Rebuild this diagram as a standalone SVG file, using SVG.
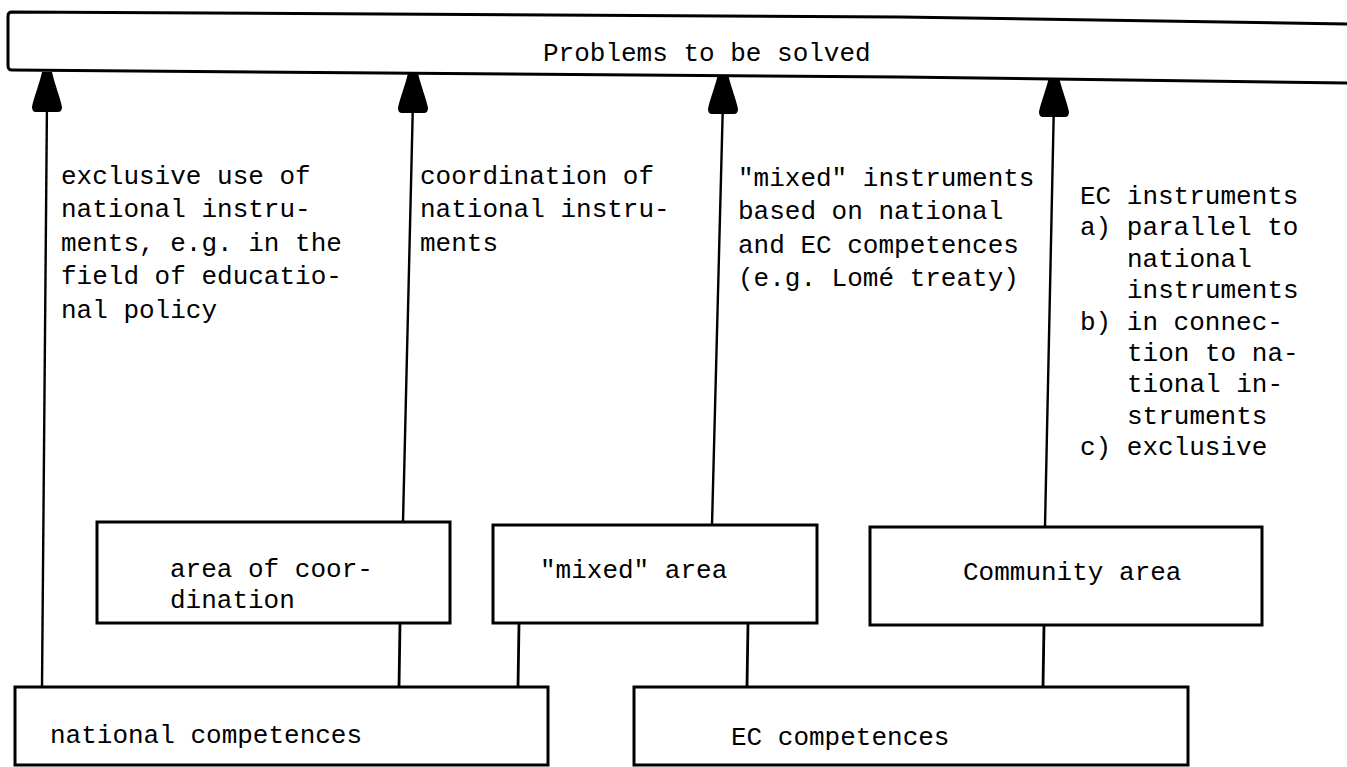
<svg xmlns="http://www.w3.org/2000/svg" xmlns:xlink="http://www.w3.org/1999/xlink" width="1347" height="767" viewBox="0 0 1347 767">
<style>
  .t { font-family: "Liberation Mono", "DejaVu Sans Mono", monospace; font-size: 26px; fill: #000; }
  .box { fill: #fff; stroke: #000; stroke-width: 3; }
  .ln { stroke: #000; stroke-width: 2.4; fill: none; }
  .cn { stroke: #000; stroke-width: 2.8; fill: none; }
</style>
<defs>
  <path id="head" d="M -5,0 L 5,0 C 7,10 14,28 15,35 Q 15,40 11,40 L -11,40 Q -15,40 -15,35 C -14,28 -7,10 -5,0 Z" fill="#000"/>
</defs>
<rect width="1347" height="767" fill="#fff"/>

<g id="connectors">
  <line class="ln" x1="42" y1="687" x2="47" y2="100"/>
  <line class="ln" x1="403" y1="522" x2="413" y2="100"/>
  <line class="ln" x1="712" y1="525" x2="723" y2="100"/>
  <line class="ln" x1="1045" y1="527" x2="1054" y2="100"/>
  <use xlink:href="#head" href="#head" transform="translate(47,72)"/>
  <use xlink:href="#head" href="#head" transform="translate(413,73)"/>
  <use xlink:href="#head" href="#head" transform="translate(723,74)"/>
  <use xlink:href="#head" href="#head" transform="translate(1054,77)"/>
  <line class="cn" x1="400" y1="623" x2="399" y2="687"/>
  <line class="cn" x1="519" y1="623" x2="518" y2="687"/>
  <line class="cn" x1="748" y1="623" x2="747" y2="687"/>
  <line class="cn" x1="1044" y1="625" x2="1043" y2="687"/>
</g>

<g id="problems">
  <path class="box" d="M 12,12 L 900,17 L 1350,24 L 1350,83 L 900,77 L 12,70 Q 8,70 8,66 L 8,16 Q 8,12 12,12 Z"/>
  <text class="t" x="543" y="61">Problems to be solved</text>
</g>

<g id="label-exclusive">
  <text class="t" x="61" y="184">exclusive use of</text>
  <text class="t" x="61" y="217">national instru-</text>
  <text class="t" x="61" y="251">ments, e.g. in the</text>
  <text class="t" x="61" y="284">field of educatio-</text>
  <text class="t" x="61" y="318">nal policy</text>
</g>

<g id="label-coordination">
  <text class="t" x="420" y="184">coordination of</text>
  <text class="t" x="420" y="217">national instru-</text>
  <text class="t" x="420" y="251">ments</text>
</g>

<g id="label-mixed">
  <text class="t" x="738" y="186">"mixed" instruments</text>
  <text class="t" x="738" y="219">based on national</text>
  <text class="t" x="738" y="253">and EC competences</text>
  <text class="t" x="738" y="286">(e.g. Lomé treaty)</text>
</g>

<g id="label-ec">
  <text class="t" x="1080" y="204">EC instruments</text>
  <text class="t" x="1080" y="235">a) parallel to</text>
  <text class="t" x="1127" y="267">national</text>
  <text class="t" x="1127" y="298">instruments</text>
  <text class="t" x="1080" y="330">b) in connec-</text>
  <text class="t" x="1127" y="361">tion to na-</text>
  <text class="t" x="1127" y="392">tional in-</text>
  <text class="t" x="1127" y="424">struments</text>
  <text class="t" x="1080" y="455">c) exclusive</text>
</g>

<g id="area-coordination">
  <rect class="box" x="97" y="522" width="353" height="101"/>
  <text class="t" x="170" y="577">area of coor-</text>
  <text class="t" x="170" y="608">dination</text>
</g>

<g id="area-mixed">
  <rect class="box" x="493" y="525" width="324" height="98"/>
  <text class="t" x="540" y="578">"mixed" area</text>
</g>

<g id="area-community">
  <rect class="box" x="870" y="527" width="392" height="98"/>
  <text class="t" x="963" y="580">Community area</text>
</g>

<g id="national-competences">
  <rect class="box" x="15" y="687" width="533" height="78"/>
  <text class="t" x="50" y="743">national competences</text>
</g>

<g id="ec-competences">
  <rect class="box" x="634" y="687" width="554" height="78"/>
  <text class="t" x="731" y="745">EC competences</text>
</g>
</svg>
